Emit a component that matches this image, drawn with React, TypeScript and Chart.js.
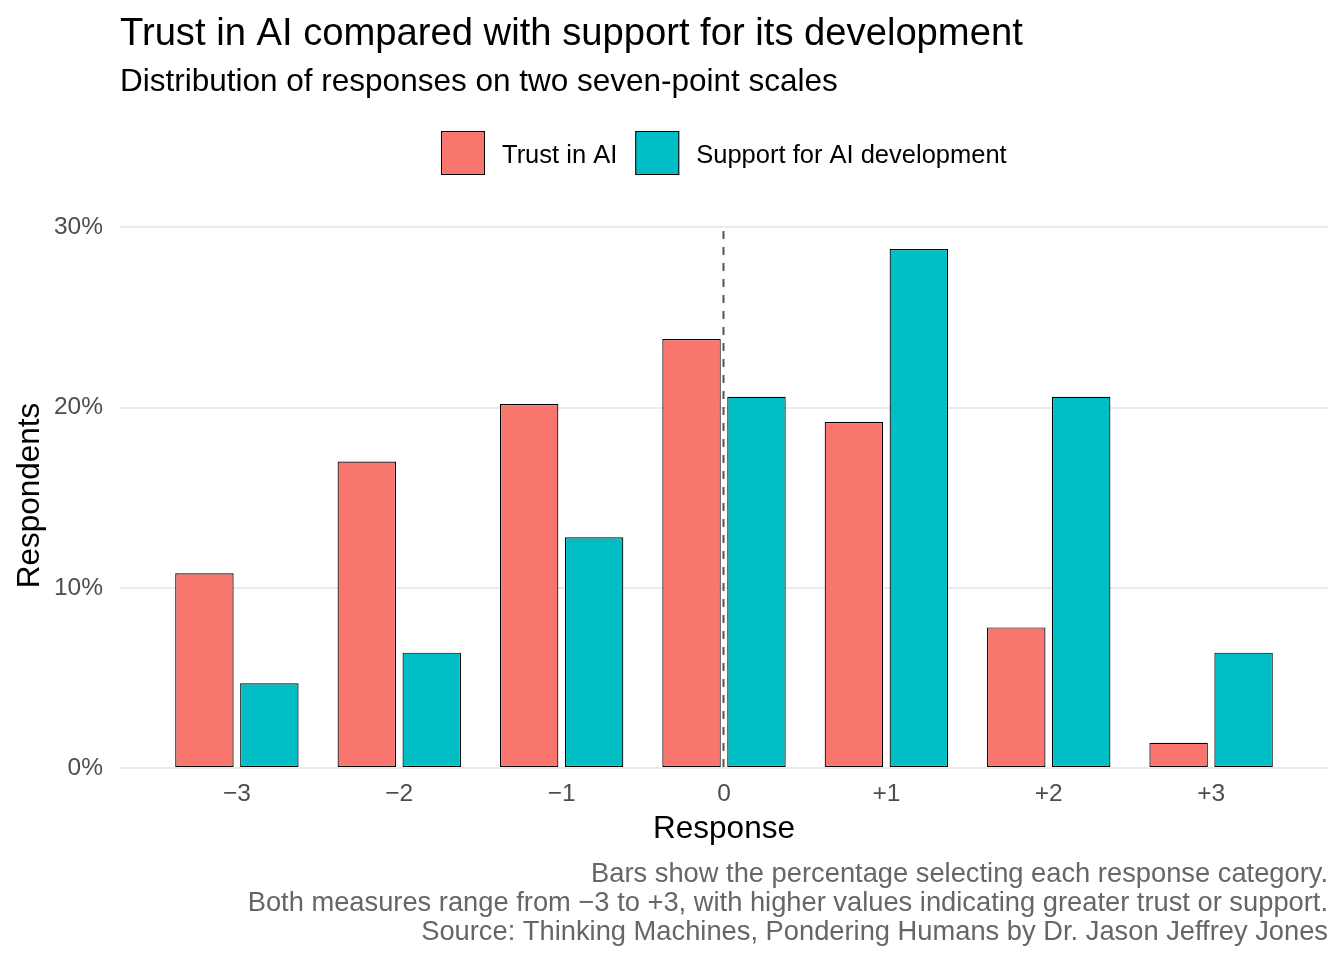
import { useEffect, useRef } from "react"
import { Chart, registerables } from "chart.js"

Chart.register(...registerables)

// response categories on the seven-point scale
const responses = [-3, -2, -1, 0, 1, 2, 3]
// % of respondents choosing each category
const trustValues = [10.8, 17.0, 20.2, 23.8, 19.2, 7.8, 1.4]
const supportValues = [4.7, 6.4, 12.8, 20.6, 28.8, 20.6, 6.4]
const yTicks = [0, 10, 20, 30]

const seriesNames = ["Trust in AI", "Support for AI development"]
const seriesColors = ["#F8766D", "#00BFC4"]

const titleText = "Trust in AI compared with support for its development"
const subtitleText = "Distribution of responses on two seven-point scales"
const captionLines = [
  "Bars show the percentage selecting each response category.",
  "Both measures range from \u22123 to +3, with higher values indicating greater trust or support.",
  "Source: Thinking Machines, Pondering Humans by Dr. Jason Jeffrey Jones",
]

const FONT = "'Liberation Sans', Arial, sans-serif"

const formatResponse = (v: number) =>
  v > 0 ? `+${v}` : v < 0 ? `\u2212${Math.abs(v)}` : "0"

// dashed reference line at the neutral response
const zeroLine = {
  id: "zeroLine",
  afterDatasetsDraw(chart: any) {
    const { ctx, chartArea, scales } = chart
    const x = scales.x.getPixelForValue(0) - 0.5
    ctx.save()
    ctx.strokeStyle = "#555555"
    ctx.lineWidth = 2
    ctx.setLineDash([8, 8])
    ctx.lineDashOffset = -8
    ctx.beginPath()
    ctx.moveTo(x, chartArea.top)
    ctx.lineTo(x, chartArea.bottom)
    ctx.stroke()
    ctx.restore()
  },
}

// titles, legend and caption laid out like the ggplot original
const annotations = {
  id: "annotations",
  afterDraw(chart: any) {
    const { ctx, chartArea } = chart
    ctx.save()
    ctx.textBaseline = "alphabetic"

    ctx.fillStyle = "#000000"
    ctx.textAlign = "left"
    ctx.font = `38.2px ${FONT}`
    ctx.fillText(titleText, chartArea.left, 45)
    ctx.font = `31.5px ${FONT}`
    ctx.fillText(subtitleText, chartArea.left, 91)

    // legend, centred over the panel
    ctx.font = `25.5px ${FONT}`
    const box = 44
    const gapText = 17
    const gapItem = 18
    const widths = seriesNames.map((n) => ctx.measureText(n).width)
    const total =
      widths.reduce((a, w) => a + box + gapText + w, 0) + gapItem * (seriesNames.length - 1)
    let x = Math.round((chartArea.left + chartArea.right) / 2 - total / 2)
    seriesNames.forEach((name, i) => {
      ctx.fillStyle = seriesColors[i]
      ctx.fillRect(x, 131, box, box)
      ctx.strokeStyle = "#000000"
      ctx.lineWidth = 1
      ctx.strokeRect(x + 0.5, 131.5, box - 1, box - 1)
      ctx.fillStyle = "#000000"
      ctx.fillText(name, x + box + gapText, 163)
      x += box + gapText + widths[i] + gapItem
    })

    ctx.fillStyle = "#666666"
    ctx.textAlign = "right"
    ctx.font = `27.3px ${FONT}`
    captionLines.forEach((line, i) => {
      ctx.fillText(line, chartArea.right, 882 + i * 29)
    })
    ctx.restore()
  },
}

export default function App() {
  const chartRef = useRef<HTMLCanvasElement>(null)
  const chartInstance = useRef<Chart | null>(null)

  useEffect(() => {
    if (!chartRef.current) return
    if (chartInstance.current) {
      chartInstance.current.destroy()
    }
    const ctx = chartRef.current.getContext("2d")
    if (!ctx) return

    const yMax = Math.max(...trustValues, ...supportValues) * 1.05

    chartInstance.current = new Chart(ctx, {
      type: "bar",
      data: {
        datasets: [trustValues, supportValues].map((vals, i) => ({
          label: seriesNames[i],
          data: responses.map((r, j) => ({ x: r, y: vals[j] })),
          backgroundColor: seriesColors[i],
          borderColor: "#000000",
          borderWidth: 1.2,
          borderSkipped: false,
          categoryPercentage: 0.8,
          barPercentage: 0.9,
        })),
      },
      plugins: [zeroLine, annotations],
      options: {
        responsive: false,
        animation: false,
        devicePixelRatio: 1,
        layout: {
          padding: { top: 223, right: 16, bottom: 112, left: 0 },
        },
        scales: {
          x: {
            type: "linear",
            min: -3.72,
            max: 3.72,
            offset: false,
            afterFit: (scale: any) => {
              scale.height = 80
            },
            grid: { display: false, drawTicks: false },
            border: { display: false },
            ticks: {
              stepSize: 1,
              includeBounds: false,
              padding: 12,
              color: "#4D4D4D",
              font: { family: FONT, size: 24.5 },
              callback: (v: any) => formatResponse(Number(v)),
            },
            title: {
              display: true,
              text: "Response",
              color: "#000000",
              font: { family: FONT, size: 31.5, lineHeight: 1.2 },
              padding: { top: 0, bottom: 0 },
            },
          },
          y: {
            type: "linear",
            min: 0,
            max: yMax,
            afterFit: (scale: any) => {
              scale.width = 120
            },
            afterBuildTicks: (scale: any) => {
              scale.ticks = yTicks.map((v) => ({ value: v }))
            },
            grid: { color: "#EBEBEB", lineWidth: 2, drawTicks: false },
            border: { display: false },
            ticks: {
              padding: 17,
              color: "#4D4D4D",
              font: { family: FONT, size: 24.5 },
              callback: (v: any) => `${v}%`,
            },
            title: {
              display: true,
              text: "Respondents",
              color: "#000000",
              font: { family: FONT, size: 31.5, lineHeight: 1.2 },
              padding: { top: 11, bottom: 0 },
            },
          },
        },
        plugins: {
          legend: { display: false },
          tooltip: { enabled: false },
        },
      },
    })

    return () => {
      if (chartInstance.current) {
        chartInstance.current.destroy()
        chartInstance.current = null
      }
    }
  }, [])

  return (
    <div style={{ position: "absolute", left: 0, top: 0, width: 1344, height: 960, background: "#ffffff" }}>
      <canvas ref={chartRef} width={1344} height={960}></canvas>
    </div>
  )
}
